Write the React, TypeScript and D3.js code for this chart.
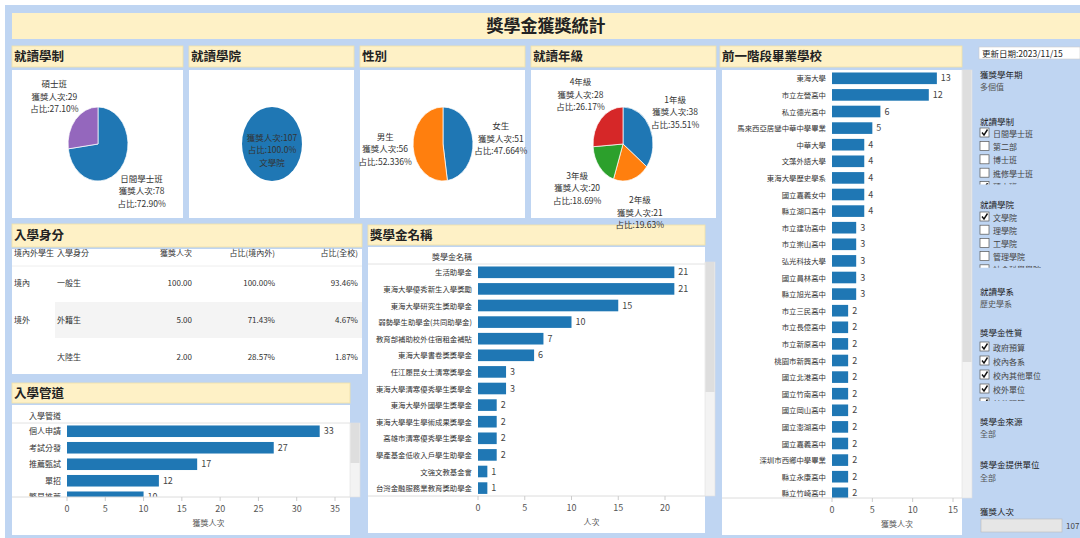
import * as d3 from 'd3'

const W = 1080
const H = 538
const FONT = '"Noto Sans CJK TC", "Noto Sans", sans-serif'
const BG = '#bfd5f2'
const YELLOW = '#fef1c6'
const BAR = '#1f77b4'
const TXT = '#333'

// 就讀學制
const systemNames = ['日間學士班', '碩士班']
const systemValues = [78, 29]
const systemShares = ['72.90%', '27.10%']
// 就讀學院
const collegeNames = ['文學院']
const collegeValues = [107]
const collegeShares = ['100.0%']
// 性別
const genderNames = ['女生', '男生']
const genderValues = [51, 56]
const genderShares = ['47.664%', '52.336%']
// 就讀年級
const gradeNames = ['1年級', '2年級', '3年級', '4年級']
const gradeValues = [38, 21, 20, 28]
const gradeShares = ['35.51%', '19.63%', '18.69%', '26.17%']

// 入學身分
const idColumns = ['境內外學生', '入學身分', '獲獎人次', '占比(境內外)', '占比(全校)']
const idRegion = ['境內', '境外', '']
const idType = ['一般生', '外籍生', '大陸生']
const idCount = ['100.00', '5.00', '2.00']
const idShareRegion = ['100.00%', '71.43%', '28.57%']
const idShareAll = ['93.46%', '4.67%', '1.87%']

// 入學管道
const channelNames = ['個人申請', '考試分發', '推薦甄試', '單招', '繁星推薦']
const channelValues = [33, 27, 17, 12, 10]
const channelTicks = [0, 5, 10, 15, 20, 25, 30, 35]

// 獎學金名稱
const awardNames = [
  '生活助學金',
  '東海大學優秀新生入學獎勵',
  '東海大學研究生獎助學金',
  '弱勢學生助學金(共同助學金)',
  '教育部補助校外住宿租金補貼',
  '東海大學書卷獎獎學金',
  '任江履昆女士清寒獎學金',
  '東海大學清寒優秀學生獎學金',
  '東海大學外國學生獎學金',
  '東海大學學生學術成果獎學金',
  '高雄市清寒優秀學生獎學金',
  '學產基金低收入戶學生助學金',
  '文強文教基金會',
  '台灣金融服務業教育獎助學金',
]
const awardValues = [21, 21, 15, 10, 7, 6, 3, 3, 2, 2, 2, 2, 1, 1]
const awardTicks = [0, 5, 10, 15, 20]

// 前一階段畢業學校
const schoolNames = [
  '東海大學', '市立左營高中', '私立德光高中', '馬來西亞居鑾中華中學畢業', '中華大學',
  '文藻外語大學', '東海大學歷史學系', '國立嘉義女中', '縣立湖口高中', '市立建功高中',
  '市立崇山高中', '弘光科技大學', '國立員林高中', '縣立旭光高中', '市立三民高中',
  '市立長億高中', '市立新原高中', '桃園市新興高中', '國立北港高中', '國立竹南高中',
  '國立岡山高中', '國立澎湖高中', '國立嘉義高中', '深圳市西鄉中學畢業', '縣立永康高中',
  '縣立竹崎高中',
]
const schoolValues = [13, 12, 6, 5, 4, 4, 4, 4, 4, 3, 3, 3, 3, 3, 2, 2, 2, 2, 2, 2, 2, 2, 2, 2, 2, 2]
const schoolTicks = [0, 5, 10, 15]

// 篩選器
const systemFilter = ['日間學士班', '第二部', '博士班', '進修學士班', '碩士班']
const systemChecked = [true, false, false, false, true]
const collegeFilter = ['文學院', '理學院', '工學院', '管理學院', '社會科學學院']
const collegeChecked = [true, false, false, false, false]
const natureFilter = ['政府預算', '校內各系', '校內其他單位', '校外單位', '其他預算']
const natureChecked = [true, true, true, true, true]

const Panel = ({ x, y, w, hh, bodyTop, bodyH, title, bodyX, bodyW }: any) => (
  <g>
    <rect x={x} y={y} width={w} height={hh} fill={YELLOW} stroke="#f1e2a8" strokeWidth={0.8} />
    <text x={x + 2} y={y + hh / 2 + 4.5} fontSize={12.5} fontWeight="bold" fill="#222">{title}</text>
    <rect x={bodyX ?? x} y={bodyTop} width={bodyW ?? w} height={bodyH} fill="#fff" />
  </g>
)

type Slice = { name: string; value: number; share: string; color: string }

const Pie = ({ cx, cy, names, values, shares, colors, inside }: any) => {
  const items: Slice[] = names.map((n: string, i: number) => ({ name: n, value: values[i], share: shares[i], color: colors[i] }))
  const arcs = d3.pie<Slice>().sort(null).value(d => d.value)(items)
  const arc = d3.arc<d3.PieArcDatum<Slice>>().innerRadius(0).outerRadius(37)
  return (
    <g>
      <g transform={`translate(${cx},${cy}) scale(0.81,1)`}>
        {arcs.map((a, i) => (
          <path key={i} d={arc(a) ?? ''} fill={a.data.color} stroke="#fff" strokeWidth={arcs.length > 1 ? 0.8 : 0} />
        ))}
      </g>
      {arcs.map((a, i) => {
        const lines = inside
          ? [`獲獎人次:${a.data.value}`, `占比:${a.data.share}`, a.data.name]
          : [a.data.name, `獲獎人次:${a.data.value}`, `占比:${a.data.share}`]
        const mid = (a.startAngle + a.endAngle) / 2
        const lx = inside ? cx : cx + Math.sin(mid) * 58
        const ly = inside ? cy + 6 : cy - Math.cos(mid) * 72
        return (
          <text key={i} textAnchor="middle" fontSize={8.5} fill={TXT}>
            {lines.map((l, j) => (
              <tspan key={j} x={lx} y={ly + (j - 1) * 12.5 + 3}>{l}</tspan>
            ))}
          </text>
        )
      })}
    </g>
  )
}

const HBar = ({ id, names, values, dmax, x0, x1, ticks, top, step, bottom, left, right, axisTitle, header, headerY, labelSize = 8 }: any) => {
  const x = d3.scaleLinear().domain([0, dmax]).range([x0, x1])
  const y = d3.scaleBand<string>().domain(names).range([top, top + names.length * step]).paddingInner(0.3).paddingOuter(0.15)
  return (
    <g>
      <defs>
        <clipPath id={id}>
          <rect x={left} y={top} width={right - left} height={bottom - top} />
        </clipPath>
      </defs>
      {header && (
        <>
          <text x={x0 - 6} y={headerY} textAnchor="end" fontSize={8} fill={TXT}>{header}</text>
          <line x1={left} x2={right} y1={top} y2={top} stroke="#e2e2e2" />
        </>
      )}
      <g clipPath={`url(#${id})`}>
        {names.map((n: string, i: number) => (
          <g key={n}>
            <text x={x0 - 6} y={(y(n) ?? 0) + y.bandwidth() / 2 + 3} textAnchor="end" fontSize={labelSize} fill={TXT}>{n}</text>
            <rect x={x(0)} y={y(n)} width={x(values[i]) - x(0)} height={y.bandwidth()} fill={BAR} />
            <text x={x(values[i]) + 4} y={(y(n) ?? 0) + y.bandwidth() / 2 + 3} fontSize={9} fill="#444">{values[i]}</text>
          </g>
        ))}
      </g>
      <line x1={left} x2={right} y1={bottom} y2={bottom} stroke="#dcdcdc" />
      {ticks.map((t: number) => (
        <g key={t}>
          <line x1={x(t)} x2={x(t)} y1={bottom} y2={bottom + 4} stroke="#ccc" />
          <text x={x(t)} y={bottom + 15} textAnchor="middle" fontSize={9} fill="#555">{t}</text>
        </g>
      ))}
      <text x={(x0 + right) / 2} y={bottom + 29} textAnchor="middle" fontSize={8} fill="#555">{axisTitle}</text>
    </g>
  )
}

const Scroll = ({ x, y, w, h, thumb }: any) => (
  <g>
    <rect x={x} y={y} width={w} height={h} fill="#f3f3f3" stroke="#e0e0e0" strokeWidth={0.6} />
    <rect x={x + 0.5} y={y} width={w - 1} height={thumb} fill="#dedede" />
  </g>
)

const CheckList = ({ id, x, y, items, checked, step }: any) => {
  const bottom = y + (items.length - 1) * step - 3
  return (
    <g>
      <defs>
        <clipPath id={id}>
          <rect x={x - 2} y={y - 8} width={100} height={bottom - y + 8} />
        </clipPath>
      </defs>
      <g clipPath={`url(#${id})`}>
        {items.map((it: string, i: number) => {
          const yy = y + i * step
          return (
            <g key={it}>
              <rect x={x} y={yy - 6} width={9} height={9} fill="#fff" stroke="#555" strokeWidth={0.7} />
              {checked[i] && <path d={`M${x + 2},${yy - 1.5} L${x + 4},${yy + 1} L${x + 7.5},${yy - 4.5}`} fill="none" stroke="#111" strokeWidth={1.4} />}
              <text x={x + 13} y={yy + 2.5} fontSize={8} fill="#444">{it}</text>
            </g>
          )
        })}
      </g>
    </g>
  )
}

const Table = () => {
  const colX = [14, 57, 192, 275, 358]
  const anchors = ['start', 'start', 'end', 'end', 'end']
  const rowY = [283, 320, 357]
  return (
    <g fontSize={8} fill={TXT}>
      <rect x={55} y={302} width={307} height={36} fill="#f4f4f4" />
      <line x1={12} x2={362} y1={266} y2={266} stroke="#eee" />
      {idColumns.map((c, i) => (
        <text key={c} x={colX[i]} y={256} textAnchor={anchors[i]}>{c}</text>
      ))}
      {idType.map((t, i) => (
        <g key={t}>
          <text x={colX[0]} y={rowY[i] + 3}>{idRegion[i]}</text>
          <text x={colX[1]} y={rowY[i] + 3}>{t}</text>
          <text x={colX[2]} y={rowY[i] + 3} textAnchor="end">{idCount[i]}</text>
          <text x={colX[3]} y={rowY[i] + 3} textAnchor="end">{idShareRegion[i]}</text>
          <text x={colX[4]} y={rowY[i] + 3} textAnchor="end">{idShareAll[i]}</text>
        </g>
      ))}
    </g>
  )
}

const App = () => {
  const cat = d3.schemeCategory10
  return (
    <svg width={W} height={H} style={{ position: 'absolute', left: 0, top: 0, fontFamily: FONT }}>
      <rect x={0} y={0} width={W} height={H} fill="#fff" />
      <rect x={5} y={5} width={W - 5} height={H - 5} fill={BG} />

      <rect x={12} y={13} width={W - 12} height={26} fill={YELLOW} />
      <text x={546} y={32} textAnchor="middle" fontSize={17} fontWeight="bold" fill="#222">獎學金獲獎統計</text>

      <Panel x={12} y={46} w={171} hh={21} bodyTop={70} bodyH={148} title="就讀學制" />
      <Panel x={189} y={46} w={165} hh={21} bodyTop={70} bodyH={148} title="就讀學院" />
      <Panel x={360} y={46} w={165} hh={21} bodyTop={70} bodyH={148} title="性別" />
      <Panel x={531} y={46} w={185} hh={21} bodyTop={70} bodyH={148} title="就讀年級" />
      <Panel x={720} y={46} w={242} hh={21} bodyTop={70} bodyH={465} bodyX={722} bodyW={240} title="前一階段畢業學校" />
      <Panel x={12} y={224} w={350} hh={23} bodyTop={249} bodyH={125} title="入學身分" />
      <Panel x={12} y={383} w={338} hh={20} bodyTop={405} bodyH={130} title="入學管道" />
      <Panel x={368} y={225} w={337} hh={20} bodyTop={247} bodyH={286} title="獎學金名稱" />

      <Pie cx={98} cy={144} names={systemNames} values={systemValues} shares={systemShares} colors={[cat[0], cat[4]]} />
      <Pie cx={272} cy={144} names={collegeNames} values={collegeValues} shares={collegeShares} colors={[cat[0]]} inside />
      <Pie cx={443} cy={144} names={genderNames} values={genderValues} shares={genderShares} colors={[cat[0], cat[1]]} />
      <Pie cx={623} cy={144} names={gradeNames} values={gradeValues} shares={gradeShares} colors={[cat[0], cat[1], cat[2], cat[3]]} />

      <Table />

      <HBar id="clipChannel" names={channelNames} values={channelValues} dmax={35} x0={67} x1={335} ticks={channelTicks}
        top={423} step={16.5} bottom={497} left={12} right={350} axisTitle="獲獎人次" header="入學管道" headerY={419} />
      <Scroll x={350} y={423} w={10} h={74} thumb={40} />

      <HBar id="clipAward" names={awardNames} values={awardValues} dmax={20} x0={478} x1={665} ticks={awardTicks}
        top={264} step={16.6} bottom={496} left={368} right={705} axisTitle="人次" header="獎學金名稱" headerY={260} labelSize={7.4} />
      <Scroll x={705} y={262} w={10} h={234} thumb={130} />

      <HBar id="clipSchool" names={schoolNames} values={schoolValues} dmax={15} x0={832} x1={953} ticks={schoolTicks}
        top={70} step={16.6} bottom={498} left={722} right={962} axisTitle="獲獎人次" labelSize={7.4} />
      <Scroll x={962} y={70} w={10} h={428} thumb={292} />

      {/* 篩選器 */}
      <rect x={979} y={47} width={101} height={12} fill="#fff" stroke="#ccc" strokeWidth={0.6} />
      <text x={982} y={56.5} fontSize={8.5} fill="#222">更新日期:2023/11/15</text>
      <g fontSize={8.5} fill="#222">
        <text x={980} y={78}>獲獎學年期</text>
        <text x={980} y={90} fill="#555" fontSize={8}>多個值</text>
        <text x={980} y={125}>就讀學制</text>
        <text x={980} y={208}>就讀學院</text>
        <text x={980} y={295}>就讀學系</text>
        <text x={980} y={307} fill="#555" fontSize={8}>歷史學系</text>
        <text x={980} y={336}>獎學金性質</text>
        <text x={980} y={425}>獎學金來源</text>
        <text x={980} y={437} fill="#555" fontSize={8}>全部</text>
        <text x={980} y={468}>獎學金提供單位</text>
        <text x={980} y={481} fill="#555" fontSize={8}>全部</text>
        <text x={980} y={515}>獲獎人次</text>
      </g>
      <CheckList id="cl1" x={980} y={134} items={systemFilter} checked={systemChecked} step={13.4} />
      <CheckList id="cl2" x={980} y={218} items={collegeFilter} checked={collegeChecked} step={13.2} />
      <CheckList id="cl3" x={980} y={348} items={natureFilter} checked={natureChecked} step={14} />
      <rect x={981} y={519} width={81} height={13} fill="#e6e6e6" stroke="#bbb" strokeWidth={0.6} />
      <text x={1066} y={529} fontSize={8} fill="#444">107</text>
    </svg>
  )
}

export default App
